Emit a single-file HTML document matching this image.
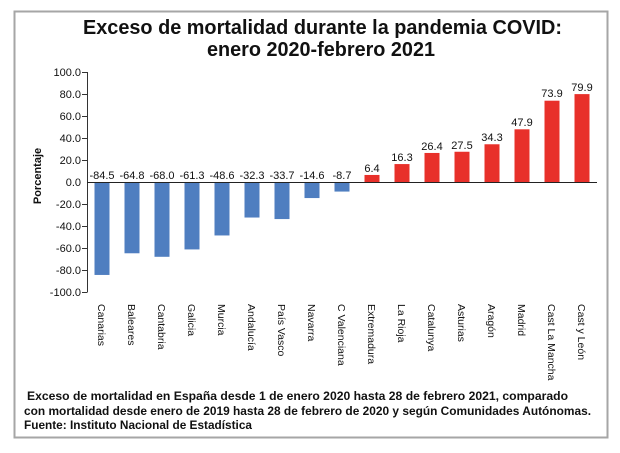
<!DOCTYPE html>
<html><head><meta charset="utf-8"><style>
html,body{margin:0;padding:0;background:#fff;}
svg{display:block;}
text{font-family:"Liberation Sans",sans-serif;}
</style></head><body>
<svg width="620" height="453" viewBox="0 0 620 453" xmlns="http://www.w3.org/2000/svg">
<rect x="0" y="0" width="620" height="453" fill="#fff"/>
<rect x="14.5" y="11.5" width="593" height="426" fill="#fff" stroke="#a6a6a6" stroke-width="2"/>
<!-- title -->
<text x="83" y="34" font-size="20" font-weight="bold" fill="#111" textLength="479" lengthAdjust="spacingAndGlyphs">Exceso de mortalidad durante la pandemia COVID:</text>
<text x="207" y="56" font-size="20" font-weight="bold" fill="#111" textLength="228" lengthAdjust="spacingAndGlyphs">enero 2020-febrero 2021</text>
<!-- y axis -->
<g stroke="#333" stroke-width="1">
<line x1="87.5" y1="72" x2="87.5" y2="292"/>
<line x1="82" y1="72.5" x2="87.5" y2="72.5"/>
<line x1="82" y1="94.5" x2="87.5" y2="94.5"/>
<line x1="82" y1="116.5" x2="87.5" y2="116.5"/>
<line x1="82" y1="138.5" x2="87.5" y2="138.5"/>
<line x1="82" y1="160.5" x2="87.5" y2="160.5"/>
<line x1="82" y1="204.5" x2="87.5" y2="204.5"/>
<line x1="82" y1="226.5" x2="87.5" y2="226.5"/>
<line x1="82" y1="248.5" x2="87.5" y2="248.5"/>
<line x1="82" y1="270.5" x2="87.5" y2="270.5"/>
<line x1="82" y1="292.5" x2="87.5" y2="292.5"/>
</g>
<g font-size="11" fill="#111" text-anchor="end">
<text x="81" y="76">100.0</text>
<text x="81" y="98">80.0</text>
<text x="81" y="120">60.0</text>
<text x="81" y="142">40.0</text>
<text x="81" y="164">20.0</text>
<text x="81" y="186">0.0</text>
<text x="81" y="208">-20.0</text>
<text x="81" y="230">-40.0</text>
<text x="81" y="252">-60.0</text>
<text x="81" y="274">-80.0</text>
<text x="81" y="296">-100.0</text>
</g>
<text transform="translate(41,176) rotate(-90)" font-size="11" font-weight="bold" fill="#111" text-anchor="middle">Porcentaje</text>
<!-- bars -->
<g fill="#4f7ec0">
<rect x="94.5" y="182" width="15" height="92.95"/>
<rect x="124.5" y="182" width="15" height="71.28"/>
<rect x="154.5" y="182" width="15" height="74.8"/>
<rect x="184.5" y="182" width="15" height="67.43"/>
<rect x="214.5" y="182" width="15" height="53.46"/>
<rect x="244.5" y="182" width="15" height="35.53"/>
<rect x="274.5" y="182" width="15" height="37.07"/>
<rect x="304.5" y="182" width="15" height="16.06"/>
<rect x="334.5" y="182" width="15" height="9.57"/>
</g>
<g fill="#e8302a">
<rect x="364.5" y="174.96" width="15" height="7.04"/>
<rect x="394.5" y="164.07" width="15" height="17.93"/>
<rect x="424.5" y="152.96" width="15" height="29.04"/>
<rect x="454.5" y="151.75" width="15" height="30.25"/>
<rect x="484.5" y="144.27" width="15" height="37.73"/>
<rect x="514.5" y="129.31" width="15" height="52.69"/>
<rect x="544.5" y="100.71" width="15" height="81.29"/>
<rect x="574.5" y="94.11" width="15" height="87.89"/>
</g>
<line x1="87" y1="182.5" x2="597" y2="182.5" stroke="#222" stroke-width="1"/>
<!-- value labels -->
<g font-size="11" fill="#111" text-anchor="middle">
<text x="102" y="179">-84.5</text>
<text x="132" y="179">-64.8</text>
<text x="162" y="179">-68.0</text>
<text x="192" y="179">-61.3</text>
<text x="222" y="179">-48.6</text>
<text x="252" y="179">-32.3</text>
<text x="282" y="179">-33.7</text>
<text x="312" y="179">-14.6</text>
<text x="342" y="179">-8.7</text>
<text x="372" y="172">6.4</text>
<text x="402" y="161">16.3</text>
<text x="432" y="150">26.4</text>
<text x="462" y="149">27.5</text>
<text x="492" y="141">34.3</text>
<text x="522" y="126">47.9</text>
<text x="552" y="97">73.9</text>
<text x="582" y="91">79.9</text>
</g>
<!-- category labels -->
<g font-size="10.5" fill="#111">
<text transform="translate(98,304) rotate(90)">Canarias</text>
<text transform="translate(128,304) rotate(90)">Baleares</text>
<text transform="translate(158,304) rotate(90)">Cantabria</text>
<text transform="translate(188,304) rotate(90)">Galicia</text>
<text transform="translate(218,304) rotate(90)">Murcia</text>
<text transform="translate(248,304) rotate(90)">Andalucía</text>
<text transform="translate(278,304) rotate(90)">País Vasco</text>
<text transform="translate(308,304) rotate(90)">Navarra</text>
<text transform="translate(338,304) rotate(90)">C Valenciana</text>
<text transform="translate(368,304) rotate(90)">Extremadura</text>
<text transform="translate(398,304) rotate(90)">La Rioja</text>
<text transform="translate(428,304) rotate(90)">Catalunya</text>
<text transform="translate(458,304) rotate(90)">Asturias</text>
<text transform="translate(488,304) rotate(90)">Aragón</text>
<text transform="translate(518,304) rotate(90)">Madrid</text>
<text transform="translate(548,304) rotate(90)">Cast La Mancha</text>
<text transform="translate(578,304) rotate(90)">Cast y León</text>
</g>
<!-- footer -->
<g font-size="12" font-weight="bold" fill="#111">
<text x="27" y="400" textLength="541" lengthAdjust="spacingAndGlyphs">Exceso de mortalidad en España desde 1 de enero 2020 hasta 28 de febrero 2021,  comparado</text>
<text x="24" y="415" textLength="567" lengthAdjust="spacingAndGlyphs">con mortalidad desde enero de 2019 hasta 28 de febrero de 2020 y según Comunidades Autónomas.</text>
<text x="24" y="429" textLength="228" lengthAdjust="spacingAndGlyphs">Fuente:  Instituto Nacional de Estadística</text>
</g>
</svg>
</body></html>
